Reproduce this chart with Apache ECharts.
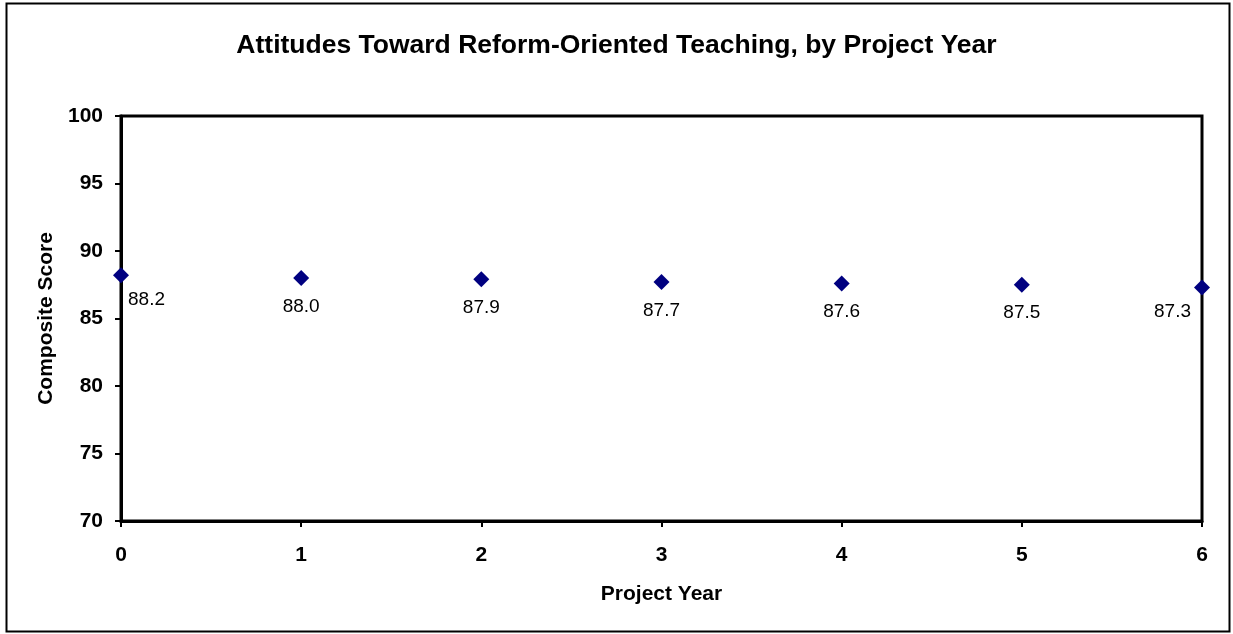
<!DOCTYPE html>
<html>
<head>
<meta charset="utf-8">
<script src="https://cdn.jsdelivr.net/npm/echarts@6/dist/echarts.min.js"></script>
<style>html,body{margin:0;padding:0;background:#fff;}#c{width:1233px;height:634px;}</style>
</head>
<body>
<div id="c"></div>
<script>
var titleText = 'Attitudes Toward Reform-Oriented Teaching, by Project Year';
var xName = 'Project Year';
var yName = 'Composite Score';
var years = [0, 1, 2, 3, 4, 5, 6];
var scores = [88.2, 88.0, 87.9, 87.7, 87.6, 87.5, 87.3];

var chart = echarts.init(document.getElementById('c'), null, {renderer: 'canvas'});
var FONT = '"Liberation Sans", Arial, sans-serif';
var dataPts = years.map(function (y, i) {
  var item = {value: [y, scores[i]]};
  if (i === 0) item.label = {position: 'right', distance: 5, offset: [-6, 24]};
  if (i === years.length - 1) item.label = {position: 'left', distance: 5, offset: [2, 24]};
  return item;
});
chart.setOption({
  animation: false,
  backgroundColor: '#fff',
  title: {
    text: titleText, left: 'center', top: 27,
    textStyle: {fontFamily: FONT, fontWeight: 'bold', fontSize: 26.5, color: '#000'}
  },
  graphic: [{
    type: 'rect', shape: {x: 6.5, y: 3.5, width: 1223, height: 628},
    style: {fill: 'none', stroke: '#000', lineWidth: 2}, silent: true, z: -1
  }],
  grid: {left: 121, right: 31, top: 116, bottom: 113, show: true, borderColor: '#000', borderWidth: 3, backgroundColor: '#fff'},
  xAxis: {
    type: 'value', min: 0, max: 6, interval: 1,
    name: xName, nameLocation: 'middle', nameGap: 63,
    nameTextStyle: {fontFamily: FONT, fontWeight: 'bold', fontSize: 21, color: '#000'},
    axisLine: {show: true, lineStyle: {color: '#000', width: 3}},
    axisTick: {show: true, inside: false, length: 6, lineStyle: {color: '#000', width: 2}},
    axisLabel: {fontFamily: FONT, fontWeight: 'bold', fontSize: 21, color: '#000', margin: 24},
    splitLine: {show: false}
  },
  yAxis: {
    type: 'value', min: 70, max: 100, interval: 5,
    name: yName, nameLocation: 'middle', nameGap: 64, nameRotate: 90,
    nameTextStyle: {fontFamily: FONT, fontWeight: 'bold', fontSize: 21, color: '#000'},
    axisLine: {show: true, lineStyle: {color: '#000', width: 3}},
    axisTick: {show: true, inside: false, length: 6, lineStyle: {color: '#000', width: 2}},
    axisLabel: {fontFamily: FONT, fontWeight: 'bold', fontSize: 21, color: '#000', margin: 18},
    splitLine: {show: false}
  },
  series: [{
    type: 'scatter',
    symbol: 'diamond', symbolSize: 16,
    itemStyle: {color: '#000080', opacity: 1},
    label: {
      show: true, position: 'bottom', distance: 11,
      fontFamily: FONT, fontSize: 19, color: '#000',
      formatter: function (p) { return p.value[1].toFixed(1); }
    },
    data: dataPts
  }]
});
</script>
</body>
</html>
